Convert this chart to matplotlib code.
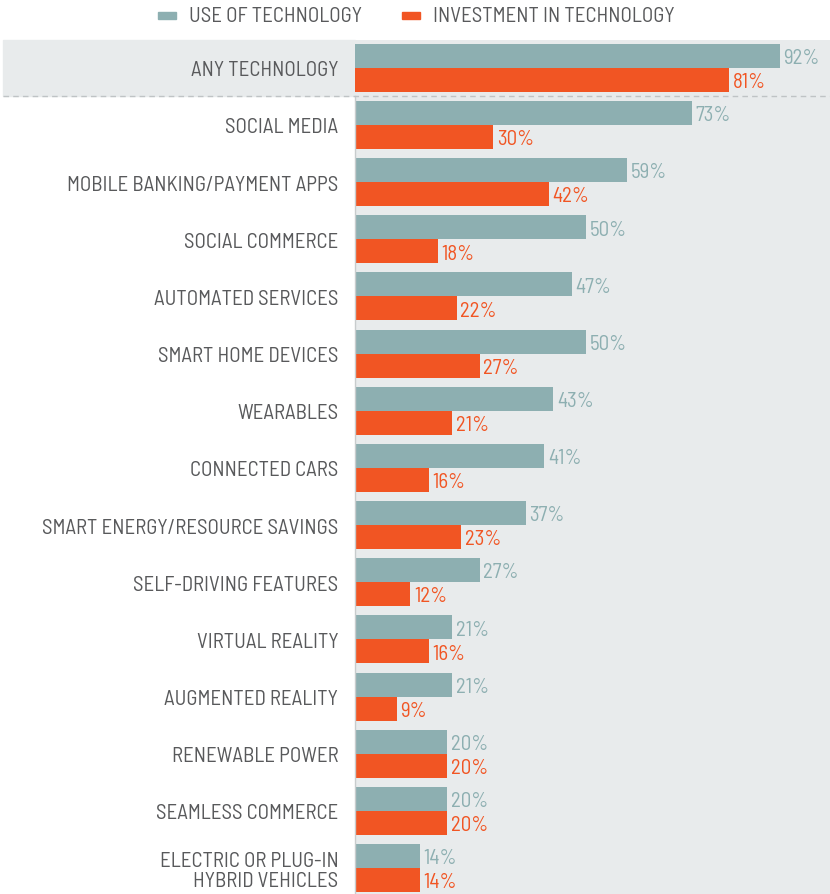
import numpy as np
import matplotlib
matplotlib.use("Agg")
import matplotlib.pyplot as plt
from matplotlib.patches import Rectangle
from matplotlib.lines import Line2D

# ============ DATA ============
categories = [
    "ANY TECHNOLOGY", "SOCIAL MEDIA", "MOBILE BANKING/PAYMENT APPS",
    "SOCIAL COMMERCE", "AUTOMATED SERVICES", "SMART HOME DEVICES",
    "WEARABLES", "CONNECTED CARS", "SMART ENERGY/RESOURCE SAVINGS",
    "SELF-DRIVING FEATURES", "VIRTUAL REALITY", "AUGMENTED REALITY",
    "RENEWABLE POWER", "SEAMLESS COMMERCE", "ELECTRIC OR PLUG-IN\nHYBRID VEHICLES",
]
use_of_tech = [92, 73, 59, 50, 47, 50, 43, 41, 37, 27, 21, 21, 20, 20, 14]
investment = [81, 30, 42, 18, 22, 27, 21, 16, 23, 12, 16, 9, 20, 20, 14]
legend_labels = ["USE OF TECHNOLOGY", "INVESTMENT IN TECHNOLOGY"]

# ============ STYLE ============
TEAL = "#8DAFB1"
ORANGE = "#F15523"
PANEL = "#E8EBEC"
TEXT = "#58595B"
FS = 15
plt.rcParams["font.family"] = ["Barlow Semi Condensed", "Liberation Sans", "DejaVu Sans"]

W, H = 830, 895
fig = plt.figure(figsize=(W / 100, H / 100), dpi=100)

# axes area in pixels: x 355..830, y 41..895
ax = fig.add_axes([355 / W, 0, 1 - 355 / W, 1 - 41 / H])
ax.set_facecolor(PANEL)

y = np.arange(len(categories))
bh = 0.42
ax.barh(y - bh / 2, use_of_tech, height=bh, color=TEAL)
ax.barh(y + bh / 2, investment, height=bh, color=ORANGE)

# value labels, nudged a touch below the bar centre like the original
for yi, u, v in zip(y, use_of_tech, investment):
    ax.text(u + 0.8, yi - bh / 2 + 0.03, f"{u}%", va="center", ha="left",
            color=TEAL, fontsize=FS)
    ax.text(v + 0.8, yi + bh / 2 + 0.03, f"{v}%", va="center", ha="left",
            color=ORANGE, fontsize=FS)

ax.set_xlim(0, 475 / 4.615)
ax.set_ylim(14.455, -0.487)
ax.set_yticks(y)
ax.set_yticklabels(categories, fontsize=FS, color=TEXT, linespacing=1.05)
ax.tick_params(axis="y", length=0, pad=12)
ax.set_xticks([])
for s in ax.spines.values():
    s.set_visible(False)

# thin axis line below the "any technology" row
ax.plot([0, 0], [0.5, 14.455], color="#C8CCCD", lw=1, clip_on=False)

# grey band for the first row, extending to the left edge
fig.patches.append(Rectangle((3 / W, 1 - 97 / H), (355 - 3) / W, (97 - 41) / H,
                             transform=fig.transFigure, color=PANEL, zorder=-1))
fig.lines.append(Line2D([3 / W, 1], [1 - 97 / H, 1 - 97 / H], transform=fig.transFigure,
                        color="#BFC3C5", lw=1, ls=(0, (4, 3)), zorder=5))

# legend
for x0, col, lab in [(158, TEAL, legend_labels[0]), (402, ORANGE, legend_labels[1])]:
    fig.patches.append(Rectangle((x0 / W, 1 - 20 / H), 18 / W, 7 / H,
                                 transform=fig.transFigure, color=col))
    fig.text((x0 + 31) / W, 1 - 16 / H, lab, va="center", ha="left",
             fontsize=FS, color=TEXT)

fig.savefig("out.png", dpi=100)
